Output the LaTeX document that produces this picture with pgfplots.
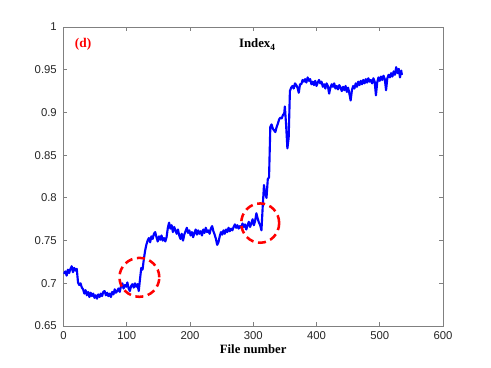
\documentclass[border=0pt]{standalone}
\usepackage{fontspec}
\setmainfont{Liberation Serif}
\setsansfont{Liberation Sans}
\usepackage{pgfplots}
\pgfplotsset{compat=1.18}
\usetikzlibrary{calc}
\definecolor{axgray}{RGB}{128,128,128}
\definecolor{txtgray}{RGB}{38,38,38}

\begin{document}
\begin{tikzpicture}
\begin{axis}[
  scale only axis, width=284.6pt, height=224.25pt,
  xmin=0, xmax=600, ymin=0.65, ymax=1,
  xtick={0,100,...,600},
  ytick={0.65,0.7,0.75,0.8,0.85,0.9,0.95,1},
  yticklabels={0.65,0.7,0.75,0.8,0.85,0.9,0.95,1},
  tick align=inside, major tick length=3pt,
  axis line style={axgray, line width=0.6pt},
  every tick/.style={axgray, line width=0.6pt},
  /pgf/number format/assume math mode=true,
  tick label style={font=\sffamily\fontsize{8.5}{10}\selectfont, text=txtgray},
  xticklabel style={yshift=-0.5pt},
  yticklabel style={xshift=-1.5pt},
  xlabel={\textbf{File number}},
  xlabel style={font=\fontsize{9.5}{11}\selectfont, yshift=3pt},
  clip=true,
]
\addplot[blue, line width=1.6pt, line join=round] coordinates {
(1,0.711) (3,0.714) (5,0.709) (7,0.716) (9,0.712) (11,0.717) (13,0.720) (15,0.713) (17,0.718) (19,0.715) (21,0.717)
(23,0.701) (25,0.698) (27,0.700) (29,0.695) (31,0.693) (33,0.688) (35,0.692) (37,0.686) (39,0.690) (41,0.684)
(43,0.689) (45,0.685) (47,0.688) (49,0.683) (51,0.686) (53,0.682) (55,0.687) (57,0.684) (59,0.688) (61,0.685)
(63,0.690) (65,0.691) (67,0.686) (69,0.689) (71,0.685) (73,0.688) (75,0.684) (77,0.690) (79,0.687) (81,0.693)
(83,0.689) (85,0.691) (87,0.694) (89,0.690) (91,0.697) (93,0.700) (95,0.694) (97,0.698) (99,0.696) (101,0.701)
(103,0.694) (105,0.691) (107,0.697) (109,0.699) (111,0.695) (113,0.700) (115,0.696) (117,0.699) (119,0.691)
(121,0.705) (123,0.718) (125,0.716) (127,0.728) (129,0.738) (131,0.745) (133,0.750) (135,0.753) (137,0.748)
(139,0.755) (141,0.752) (143,0.758) (145,0.760) (147,0.754) (149,0.749) (151,0.755) (153,0.751) (155,0.756)
(157,0.750) (159,0.753) (161,0.749) (163,0.754) (165,0.765) (167,0.771) (169,0.764) (171,0.768) (173,0.760)
(175,0.766) (177,0.762) (179,0.758) (181,0.763) (183,0.756) (185,0.752) (187,0.758) (189,0.750) (191,0.757)
(193,0.761) (195,0.765) (197,0.759) (199,0.762) (201,0.756) (203,0.760) (205,0.754) (207,0.759) (209,0.763)
(211,0.757) (213,0.762) (215,0.758) (217,0.761) (219,0.756) (221,0.763) (223,0.759) (225,0.765) (227,0.760)
(229,0.762) (231,0.758) (233,0.764) (235,0.767) (237,0.761) (239,0.757) (241,0.752) (243,0.745) (245,0.748)
(247,0.755) (249,0.760) (251,0.757) (253,0.762) (255,0.758) (257,0.763) (259,0.760) (261,0.765) (263,0.761)
(265,0.764) (267,0.762) (269,0.766) (271,0.769) (273,0.765) (275,0.768) (277,0.764) (279,0.767) (281,0.765)
(283,0.770) (285,0.766) (287,0.769) (289,0.763) (291,0.768) (293,0.772) (295,0.766) (297,0.770) (299,0.775)
(301,0.768) (303,0.773) (305,0.782) (307,0.776) (309,0.771) (311,0.768) (313,0.762) (315,0.790) (317,0.815)
(319,0.805) (321,0.800) (323,0.822) (325,0.824) (327,0.883) (329,0.886) (331,0.881) (333,0.879) (335,0.877)
(337,0.883) (339,0.887) (341,0.892) (343,0.894) (345,0.893) (347,0.897) (349,0.899) (350,0.907) (352,0.885)
(354,0.858) (356,0.870) (358,0.925) (360,0.929) (362,0.931) (364,0.928) (366,0.934) (368,0.932) (370,0.929)
(372,0.923) (374,0.933) (376,0.933) (378,0.938) (380,0.936) (382,0.939) (384,0.935) (386,0.941) (388,0.937)
(390,0.939) (392,0.933) (394,0.936) (396,0.932) (398,0.937) (400,0.931) (402,0.935) (404,0.938) (406,0.934)
(408,0.936) (410,0.930) (412,0.933) (414,0.928) (416,0.934) (418,0.931) (420,0.922) (422,0.929) (424,0.933)
(426,0.930) (428,0.934) (430,0.928) (432,0.931) (434,0.927) (436,0.932) (438,0.929) (440,0.925) (442,0.930)
(444,0.926) (446,0.931) (448,0.924) (450,0.929) (452,0.922) (454,0.914) (456,0.926) (458,0.931) (460,0.928)
(462,0.934) (464,0.930) (466,0.936) (468,0.932) (470,0.937) (472,0.933) (474,0.938) (476,0.934) (478,0.939)
(480,0.935) (482,0.940) (484,0.936) (486,0.938) (488,0.934) (490,0.940) (492,0.936) (494,0.920) (496,0.935)
(498,0.941) (500,0.937) (502,0.942) (504,0.938) (506,0.943) (508,0.939) (510,0.926) (512,0.940) (514,0.944)
(516,0.941) (518,0.946) (520,0.942) (522,0.948) (524,0.944) (526,0.953) (528,0.946) (530,0.951) (532,0.941)
(534,0.949) (535,0.944)
};
\draw[red, line width=1.9pt, dash pattern=on 6pt off 3.5pt] (axis cs:120,0.707) ellipse [x radius=31.5, y radius=0.0228];
\draw[red, line width=1.9pt, dash pattern=on 6pt off 3.5pt] (axis cs:311,0.7705) ellipse [x radius=30, y radius=0.023];
\node[font=\bfseries\fontsize{10}{12}\selectfont, text=red] at (axis cs:31,0.980) {(d)};
\node[font=\bfseries\fontsize{9.6}{12}\selectfont] at (axis cs:306,0.979) {Index\raisebox{-2.2pt}{\fontsize{7}{8}\selectfont 4}};
\end{axis}
\path (current axis.south west) ++(-47.6pt,-30.75pt) rectangle ($(current axis.north east)+(36pt,20.25pt)$);
\end{tikzpicture}
\end{document}
